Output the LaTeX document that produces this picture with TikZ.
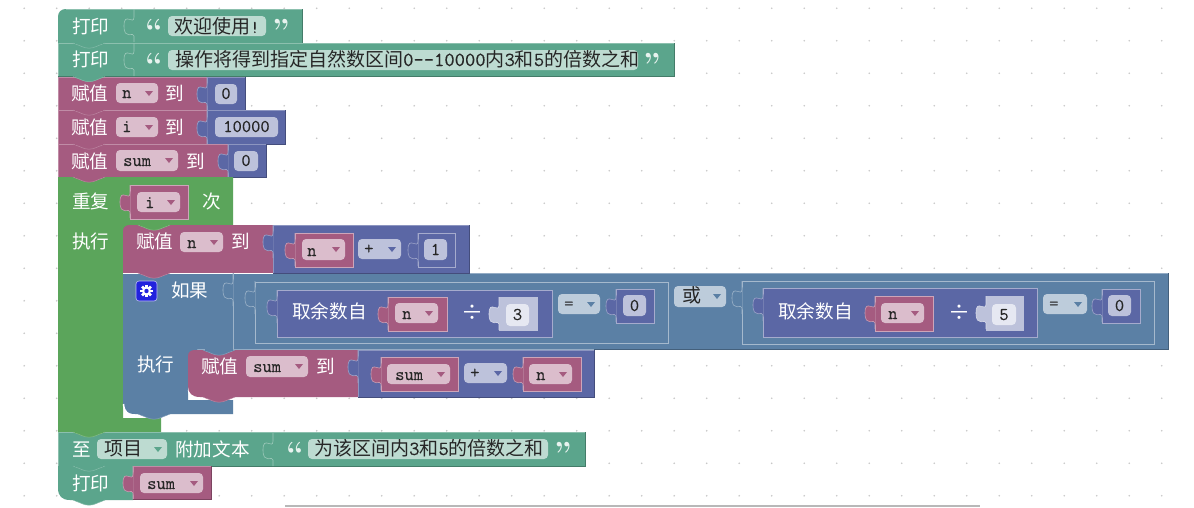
\documentclass[tikz,border=0pt]{standalone}
\usepackage{fontspec}
\setmainfont{Noto Sans CJK SC}
\newfontfamily\mono[FakeBold=0.2]{Latin Modern Mono}
\newfontfamily\qfont{Latin Modern Roman}
\definecolor{pr}{HTML}{5BA58C}
\definecolor{st}{HTML}{A55B80}
\definecolor{nm}{HTML}{5B67A5}
\definecolor{lg}{HTML}{5B80A5}
\definecolor{gr}{HTML}{5BA55B}
\definecolor{fpr}{HTML}{BDDBD1}
\definecolor{fst}{HTML}{DBBDCC}
\definecolor{fnm}{HTML}{BDC2DB}
\definecolor{flg}{HTML}{BDCCDB}
\definecolor{fsh}{HTML}{E6E8F2}
\definecolor{gearb}{HTML}{2222DD}
\newcommand\dg[1]{{\mono\fontsize{20}{20}\selectfont #1}}
\tikzset{
  lab/.style={anchor=base west,inner sep=0pt,yshift=-1pt,text=white,font=\fontsize{18.6}{19}\selectfont},
  ftxt/.style={anchor=base west,inner sep=0pt,text=black!85,font=\fontsize{19}{19}\selectfont},
  mtxt/.style={anchor=base west,inner sep=0pt,text=black!85,font=\mono\fontsize{18}{18}\selectfont},
  ctxt/.style={anchor=base,inner sep=0pt,text=black!85,font=\mono\fontsize{18}{18}\selectfont},
  qt/.style={anchor=base,inner sep=0pt,text=fpr!35!white,font=\qfont\bfseries\fontsize{32}{32}\selectfont},
  divi/.style={anchor=base west,inner sep=0pt,text=white,font=\fontsize{22}{22}\selectfont},
  dot/.style={fill=black!22},
}
\newcommand\blk[5]{%
  \fill[#5] (#1,#2) rectangle (#3,#4);
  \draw[#5!70!white,line width=.7pt] (#1,#4)--(#1,#2)--(#3,#2);
  \draw[#5!75!black,line width=.7pt] (#1,#4)--(#3,#4)--(#3,#2);}
\newcommand\nst[5]{%
  \filldraw[fill=#5,draw=#5!55!white,line width=.8pt] (#1,#2) rectangle (#3,#4);}
\newcommand\ptab[3]{%
  \fill[#3] (#1+.5,#2-2) -- (#1,#2) .. controls (#1,#2+9) and (#1-10,#2-6) .. (#1-10,#2+9)
     .. controls (#1-10,#2+24) and (#1,#2+14) .. (#1,#2+19) -- (#1+.5,#2+21) -- cycle;
  \draw[#3!60!white,line width=.6pt] (#1,#2-8) -- (#1,#2) .. controls (#1,#2+9) and (#1-10,#2-6) .. (#1-10,#2+9)
     .. controls (#1-10,#2+24) and (#1,#2+14) .. (#1,#2+19) -- (#1,#2+25);}
\newcommand\ntab[3]{%
  \filldraw[fill=#3,draw=#3!75!white,line width=.5pt] (#1+15,#2) -- (#1+25,#2+4) .. controls (#1+28,#2+5.5) and (#1+34,#2+5.5) .. (#1+37,#2+4) -- (#1+47,#2);
  \fill[#3] (#1+17,#2-1) rectangle (#1+45,#2+.6);}
\newcommand\ddf[7]{%
  \fill[#5,rounded corners=4pt] (#1,#2) rectangle (#3,#4);
  \fill[#6] (#3-13,#2+8) -- (#3-5,#2+8) -- (#3-9,#2+13) -- cycle;
  #7}
\newcommand\pf[5]{\fill[#5,rounded corners=4pt] (#1,#2) rectangle (#3,#4);}
\begin{document}
\begin{tikzpicture}[x=1pt,y=-1pt]
\useasboundingbox (0,0) rectangle (1194,507);
\fill[white] (0,0) rectangle (1194,507);
\foreach \i in {0,...,35} \foreach \j in {0,...,15}
  \fill[dot] ({24.2+32.5*\i},{8.3+32.5*\j}) circle (.9pt);
\fill[black!28] (285,504.5) rectangle (980,507);

% ---- print 1
\fill[pr] (58,17) .. controls (58,12) and (61,9) .. (66,9) -- (302,9) -- (302,43) -- (58,43) -- cycle;
\draw[pr!75!black,line width=.7pt] (302,9)--(302,43)--(134,43);
\draw[pr!70!white,line width=.7pt] (66,9)--(302,9);
\ptab{134}{17}{pr}
\node[lab] (p1) at (72,32) {打印};
\node[qt] (q1a) at (154,41) {“};
\pf{168}{16}{266}{36}{fpr}
\node[ftxt] (p1t) at (174,33) {欢迎使用{\mono\fontsize{18}{18}\selectfont !}};
\node[qt] (q1b) at (281,41) {”};

% ---- print 2
\blk{58}{43}{674}{76}{pr}
\ptab{134}{51}{pr}
\node[lab] (p2) at (72,65) {打印};
\node[qt] (q2a) at (154,75) {“};
\pf{168}{50}{638}{70}{fpr}
\node[ftxt] (p2t) at (175,66) {操作将得到指定自然数区间\dg{0--10000}内\dg{3}和\dg{5}的倍数之和};
\node[qt] (q2b) at (652,75) {”};

% ---- set n / i / sum
\blk{58}{77}{207}{110}{st}
\blk{207}{77}{245}{110}{nm}
\ptab{207}{85}{nm}
\node[lab] (s1) at (71,99) {赋值};
\ddf{116}{83}{158}{103}{fst}{st}{\node[mtxt] (s1v) at (122,98) {n};}
\node[lab] (s1b) at (165,99) {到};
\pf{215}{84}{237}{104}{fnm}
\node[ctxt] (s1n) at (226,99) {0};

\blk{58}{110}{207}{144}{st}
\blk{207}{110}{285}{144}{nm}
\ptab{207}{119}{nm}
\node[lab] (s2) at (71,133) {赋值};
\ddf{116}{117}{158}{137}{fst}{st}{\node[mtxt] (s2v) at (122,132) {i};}
\node[lab] (s2b) at (165,133) {到};
\pf{215}{117}{278}{137}{fnm}
\node[ctxt] (s2n) at (246.5,132) {10000};

\blk{58}{144}{228}{177}{st}
\blk{228}{144}{266}{177}{nm}
\ptab{228}{152}{nm}
\node[lab] (s3) at (71,167) {赋值};
\ddf{116}{150}{178}{171}{fst}{st}{\node[mtxt] (s3v) at (123,166) {sum};}
\node[lab] (s3b) at (186,167) {到};
\pf{234}{151}{258}{171}{fnm}
\node[ctxt] (s3n) at (246,166) {0};

% ---- repeat
\fill[gr] (58,177) -- (233,177) -- (233,225) -- (131,225) -- (131,233) -- (123,233) -- (123,418) -- (161,418) -- (161,432) -- (58,432) -- cycle;
\nst{130}{185}{188}{219}{st}
\ptab{130}{193}{st}
\node[lab] (r1) at (72,207) {重复};
\ddf{137}{192}{180}{212}{fst}{st}{\node[mtxt] (r1v) at (145,208) {i};}
\node[lab] (r2) at (202,207) {次};
\node[lab] (r3) at (72,247) {执行};

% ---- if block
\fill[lg] (123,273) -- (1168,273) -- (1168,349.5) -- (197,349.5) -- (197,358) -- (188,358) -- (188,386) -- (188,400) -- (233,400) -- (233,414) -- (135,414) .. controls (127,414) and (123,410) .. (123,402) -- cycle;
\draw[lg!75!black,line width=.7pt] (1168,273)--(1168,349.5)--(594,349.5);
\draw[white,line width=1.5pt] (123.5,404) .. controls (124,412) and (128,416) .. (138,416) -- (150,416);
\draw[lg!65!white,line width=.7pt] (123,273)--(1168,273);
\draw[white,line width=1.5pt] (188.5,390) .. controls (189,396) and (193,399) .. (202,399) -- (215,399);

% ---- set n (inner)
\fill[st] (123,231) .. controls (123,227) and (126,225) .. (130,225) -- (273,225) -- (273,273) -- (123,273) -- cycle;
\blk{273}{225}{469}{273}{nm}
\ptab{273}{233}{nm}
\draw[white,line width=.5pt] (123,273)--(273,273);
\node[lab] (i1) at (136,247) {赋值};
\ddf{180}{232}{223}{252}{fst}{st}{\node[mtxt] (i1v) at (187,248) {n};}
\node[lab] (i1b) at (231,247) {到};
\nst{295}{233}{353}{267}{st}
\ptab{295}{241}{st}
\ddf{302}{239}{345}{260}{fst}{st}{\node[mtxt] (i1x) at (307,256) {n};}
\ddf{358}{239}{401}{259}{fnm}{nm}{\node[mtxt] (i1o) at (364,254) {+};}
\nst{418}{233}{455}{267}{nm}
\ptab{418}{241}{nm}
\pf{424}{239}{447}{260}{fnm}
\node[ctxt] (i1n) at (435.5,255) {1};

% ---- if header
\fill[gearb,rounded corners=3pt] (136,281) rectangle (157,301);
\draw[white!70!gearb,rounded corners=3pt,line width=.6pt] (136,281) rectangle (157,301);
\foreach \a in {0,45,...,315}
  \fill[white,rotate around={\a:(146.5,291)}] (145.2,284.8) rectangle (147.8,288);
\fill[white] (146.5,291) circle (4.5pt);
\fill[gearb] (146.5,291) circle (2.2pt);
\node[lab] (c1) at (171,296) {如果};
\node[lab] (c2) at (137,370) {执行};
\draw[lg!60!white,line width=.7pt] (233,273) -- (233,349);
\ptab{233}{281}{lg}

% ---- compare 1
\nst{255}{282}{668}{343}{lg}
\ptab{255}{289}{lg}
\nst{277}{290}{552}{337}{nm}
\ptab{277}{298}{nm}
\node[lab] (m1) at (292,317) {取余数自};
\nst{388}{297}{447}{331}{st}
\ptab{388}{305}{st}
\ddf{395}{303}{438}{323}{fst}{st}{\node[mtxt] (m1v) at (402,319) {n};}
\node[divi] (m1d) at (461,320) {÷};
\fill[fnm] (499,297) rectangle (538,331);
\ptab{499}{305}{fnm}
\pf{506}{304}{529}{326}{fsh}
\node[ctxt] (m1n) at (517.5,320) {3};
\ddf{558}{294}{600}{314}{flg}{lg}{\node[mtxt] (e1) at (564,309) {=};}
\nst{616}{289}{654}{323}{nm}
\ptab{616}{297}{nm}
\pf{623}{295}{646}{316}{fnm}
\node[ctxt] (e1n) at (634.5,311) {0};

% ---- or
\ddf{674}{286}{726}{307}{flg}{lg}{\node[ftxt] (or1) at (682,302) {或};}

% ---- compare 2
\nst{742}{281}{1154}{344}{lg}
\ptab{742}{289}{lg}
\nst{763}{288}{1037}{337}{nm}
\ptab{763}{296}{nm}
\node[lab] (m2) at (778,317) {取余数自};
\nst{875}{296}{933}{331}{st}
\ptab{875}{304}{st}
\ddf{881}{303}{924}{323}{fst}{st}{\node[mtxt] (m2v) at (888,319) {n};}
\node[divi] (m2d) at (948,320) {÷};
\fill[fnm] (986,296) rectangle (1024,331);
\ptab{986}{304}{fnm}
\pf{992}{304}{1016}{325}{fsh}
\node[ctxt] (m2n) at (1004,320) {5};
\ddf{1043}{294}{1087}{314}{flg}{lg}{\node[mtxt] (e2) at (1049,309) {=};}
\nst{1102}{289}{1140}{323}{nm}
\ptab{1102}{297}{nm}
\pf{1108}{295}{1131}{316}{fnm}
\node[ctxt] (e2n) at (1119.5,311) {0};

% ---- set sum (inner)
\fill[st] (188,356) .. controls (188,352) and (191,350) .. (195,350) -- (358,350) -- (358,397) -- (200,397) .. controls (192,397) and (188,393) .. (188,386) -- cycle;
\blk{358}{350}{594}{397}{nm}
\ptab{358}{358}{nm}
\node[lab] (i2) at (201,372) {赋值};
\ddf{246}{356}{308}{377}{fst}{st}{\node[mtxt] (i2v) at (253,372) {sum};}
\node[lab] (i2b) at (316,372) {到};
\nst{381}{357}{458}{391}{st}
\ptab{381}{365}{st}
\ddf{387}{364}{450}{384}{fst}{st}{\node[mtxt] (i2x) at (395,380) {sum};}
\ddf{464}{363}{507}{383}{fnm}{nm}{\node[mtxt] (i2o) at (470,378) {+};}
\nst{523}{357}{581}{391}{st}
\ptab{523}{365}{st}
\ddf{529}{364}{572}{384}{fst}{st}{\node[mtxt] (i2y) at (536,380) {n};}

% ---- append text
\blk{58}{432}{585}{466}{pr}
\ptab{273}{441}{pr}
\node[lab] (a1) at (72,455) {至};
\ddf{97}{439}{167}{459}{fpr}{pr}{\node[ftxt] (a1v) at (104,455) {项目};}
\node[lab] (a2) at (175,455) {附加文本};
\node[qt] (q3a) at (295,464) {“};
\pf{308}{439}{548}{459}{fpr}
\node[ftxt] (a1t) at (314,455) {为该区间内\dg{3}和\dg{5}的倍数之和};
\node[qt] (q3b) at (563,464) {”};

% ---- print sum
\fill[pr] (58,466) -- (133,466) -- (133,500) -- (70,500) .. controls (62,500) and (58,496) .. (58,488) -- cycle;
\blk{133}{466}{211}{499}{st}
\ptab{133}{474}{st}
\node[lab] (p3) at (72,489) {打印};
\ddf{140}{473}{203}{493}{fst}{st}{\node[mtxt] (p3v) at (147,489) {sum};}

% ---- next-statement tabs
\ntab{58}{43}{pr}
\ntab{58}{76.5}{pr}
\ntab{58}{110}{st}
\ntab{58}{144}{st}
\ntab{58}{177}{st}
\ntab{58}{432}{gr}
\ntab{58}{466}{pr}
\ntab{58}{500}{pr}
\ntab{123}{225}{gr}
\ntab{123}{273}{st}
\ntab{123}{414}{lg}
\ntab{188}{350}{lg}
\ntab{188}{397}{st}
\end{tikzpicture}
\end{document}
